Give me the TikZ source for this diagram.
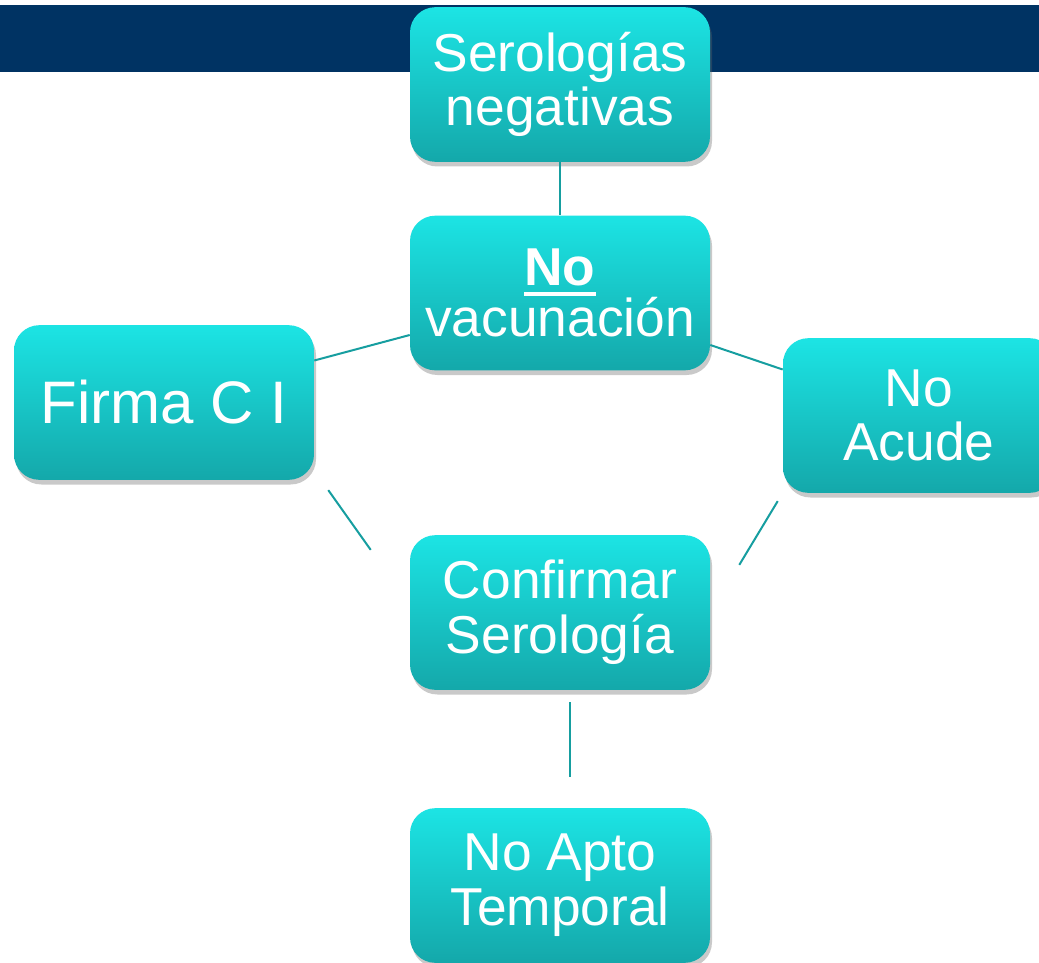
\documentclass[tikz,border=0pt]{standalone}
\usepackage{fontspec}
\setmainfont{Liberation Sans}
\usepackage{tikz}
\usetikzlibrary{shadows}

\definecolor{navy}{RGB}{0,51,99}
\definecolor{cyantop}{RGB}{28,228,228}
\definecolor{cyanbot}{RGB}{20,168,170}
\definecolor{tealline}{RGB}{22,158,160}

\newcommand{\ulno}[1]{{\setbox0\hbox{\bfseries #1}\rlap{\rule[-7.5pt]{\wd0}{3pt}}\box0}}

\begin{document}
\begin{tikzpicture}[x=0.75pt,y=-0.75pt]
    \tikzset{stepbox/.style = {rectangle, rounded corners=19pt, top color=cyantop, bottom color=cyanbot,
        minimum width=225pt, minimum height=116pt, inner sep=0pt, align=center, text=white,
        font=\fontsize{40}{41}\selectfont,
        drop shadow={shadow xshift=1.5pt, shadow yshift=-3.5pt, opacity=0.35, fill=black!60}}}
    \tikzset{link/.style = {draw=tealline, line width=1.5pt}}
    \useasboundingbox (0,0) rectangle (1039,963);
    \clip (0,0) rectangle (1039,963);
    \fill[white] (0,0) rectangle (1039,963);
    % banner
    \fill[navy] (0,5) rectangle (1039,72);
    % vertices
    \node[stepbox] (ser) at (560,84.5) {Serologías\\negativas};
    \node[stepbox] (novac) at (560,293) {\ulno{No}\\[-3pt]vacunación};
    \node[stepbox, font=\fontsize{45}{46}\selectfont] (firma) at (164,402.5) {Firma C I};
    \node[stepbox, minimum width=204pt] (acude) at (919,415.5) {No\\Acude};
    \node[stepbox] (conf) at (560,612.5) {Confirmar\\Serología};
    \node[stepbox] (apto) at (560,885.5) {No Apto\\Temporal};
    %edges
    \draw[link] (ser) -- (novac);
    \draw[link] ([yshift=-31.5pt]novac.west) -- ([yshift=31.5pt]firma.east);
    \draw[link] ([yshift=-39pt]novac.east) -- ([yshift=34.5pt]acude.west);
    \draw[link] ([shift={(14,10)}]firma.south east) -- ([shift={(-39,15)}]conf.north west);
    \draw[link] ([shift={(-5,8)}]acude.south west) -- ([shift={(29,30)}]conf.north east);
    \draw[link] ([shift={(10,12)}]conf.south) -- ([shift={(10,-31)}]apto.north);
\end{tikzpicture}
\end{document}
